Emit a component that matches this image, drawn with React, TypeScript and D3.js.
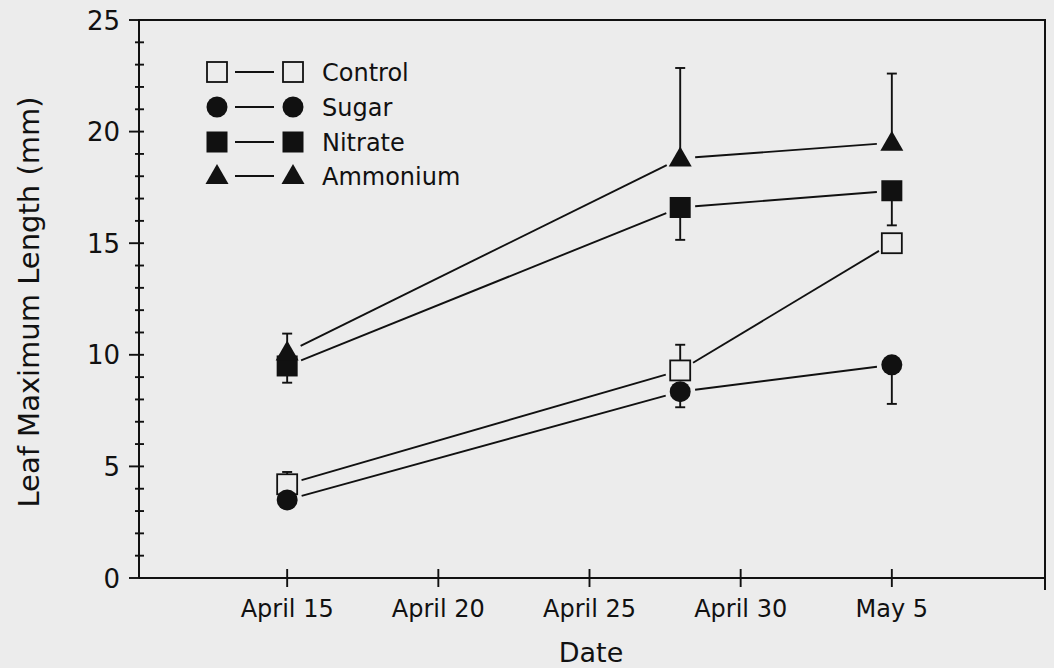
import React, { useEffect, useRef } from "react";
import * as d3 from "d3";

// sampling dates and tick labels
const sampleDates = ["1990-04-15", "1990-04-28", "1990-05-05"];
const tickDates = ["1990-04-15", "1990-04-20", "1990-04-25", "1990-04-30", "1990-05-05"];
const tickLabels = ["April 15", "April 20", "April 25", "April 30", "May 5"];

// leaf max length (mm) and one-sided error bars
const control = [4.2, 9.3, 15.0];
const controlErr = [0.55, 1.15, 0];
const sugar = [3.5, 8.35, 9.55];
const sugarErr = [0.3, 0.7, 1.75];
const nitrate = [9.5, 16.6, 17.35];
const nitrateErr = [0.75, 1.45, 1.55];
const ammonium = [10.1, 18.8, 19.5];
const ammoniumErr = [0.85, 4.05, 3.1];

const seriesNames = ["Control", "Sugar", "Nitrate", "Ammonium"];

const INK = "#111";
const BG = "#ececec";
const FONT = "'DejaVu Sans', sans-serif";
const SW = 1.9;

function App() {
  const svgRef = useRef(null);
  const svgWidth = 1054;
  const svgHeight = 668;

  useEffect(() => {
    const svg = d3.select(svgRef.current);
    svg.selectAll("*").remove();

    const parse = d3.timeParse("%Y-%m-%d");
    const left = 139;
    const right = 1045;
    const top = 20;
    const bottom = 578;

    const x = d3
      .scaleTime()
      .domain([parse("1990-04-10"), parse("1990-05-10")])
      .range([136, 1043]);
    const y = d3.scaleLinear().domain([0, 25]).range([bottom, top]);

    svg.append("rect").attr("width", svgWidth).attr("height", svgHeight).attr("fill", BG);

    // frame
    svg
      .append("path")
      .attr("d", `M${left},${bottom}V${top}H${right}V${bottom + 12}`)
      .attr("fill", "none")
      .attr("stroke", INK)
      .attr("stroke-width", 2);
    svg
      .append("line")
      .attr("x1", left)
      .attr("x2", right)
      .attr("y1", bottom)
      .attr("y2", bottom)
      .attr("stroke", INK)
      .attr("stroke-width", 2.2);

    // y ticks
    const yMinor = d3.range(0, 26, 1);
    svg
      .selectAll(".ytick")
      .data(yMinor)
      .enter()
      .append("line")
      .attr("x1", (d) => (d % 5 === 0 ? left - 10 : left - 4))
      .attr("x2", left + 5)
      .attr("y1", (d) => y(d))
      .attr("y2", (d) => y(d))
      .attr("stroke", INK)
      .attr("stroke-width", SW);

    svg
      .selectAll(".ylabel")
      .data(d3.range(0, 26, 5))
      .enter()
      .append("text")
      .attr("x", left - 19)
      .attr("y", (d) => y(d) + 9.5)
      .attr("text-anchor", "end")
      .style("font-family", FONT)
      .style("font-size", "26px")
      .attr("fill", INK)
      .text((d) => d);

    // x ticks
    const xt = tickDates.map((d) => parse(d));
    svg
      .selectAll(".xtick")
      .data(xt)
      .enter()
      .append("line")
      .attr("x1", (d) => x(d))
      .attr("x2", (d) => x(d))
      .attr("y1", bottom - 9)
      .attr("y2", bottom + 9)
      .attr("stroke", INK)
      .attr("stroke-width", SW);

    svg
      .selectAll(".xlabel")
      .data(xt)
      .enter()
      .append("text")
      .attr("x", (d) => x(d))
      .attr("y", 617)
      .attr("text-anchor", "middle")
      .style("font-family", FONT)
      .style("font-size", "24px")
      .attr("fill", INK)
      .text((d, i) => tickLabels[i]);

    svg
      .append("text")
      .attr("x", 591)
      .attr("y", 662)
      .attr("text-anchor", "middle")
      .style("font-family", FONT)
      .style("font-size", "27px")
      .attr("fill", INK)
      .text("Date");

    svg
      .append("text")
      .attr("transform", "translate(39,302) rotate(-90)")
      .attr("text-anchor", "middle")
      .style("font-family", FONT)
      .style("font-size", "29px")
      .attr("fill", INK)
      .text("Leaf Maximum Length (mm)");

    // markers
    const drawMarker = (g, kind, cx, cy) => {
      if (kind === "Control") {
        g.append("rect")
          .attr("x", cx - 10)
          .attr("y", cy - 10)
          .attr("width", 20)
          .attr("height", 20)
          .attr("fill", BG)
          .attr("stroke", INK)
          .attr("stroke-width", 1.8);
      } else if (kind === "Sugar") {
        g.append("circle").attr("cx", cx).attr("cy", cy).attr("r", 10.5).attr("fill", INK);
      } else if (kind === "Nitrate") {
        g.append("rect")
          .attr("x", cx - 10.5)
          .attr("y", cy - 10.5)
          .attr("width", 21)
          .attr("height", 21)
          .attr("fill", INK);
      } else {
        g.append("path")
          .attr("d", `M${cx},${cy - 12}L${cx + 11.5},${cy + 8}L${cx - 11.5},${cy + 8}Z`)
          .attr("fill", INK);
      }
    };

    const series = [
      { name: "Control", values: control, err: controlErr, dir: 1 },
      { name: "Sugar", values: sugar, err: sugarErr, dir: -1 },
      { name: "Nitrate", values: nitrate, err: nitrateErr, dir: -1 },
      { name: "Ammonium", values: ammonium, err: ammoniumErr, dir: 1 },
    ];
    const xs = sampleDates.map((d) => x(parse(d)));

    const gLines = svg.append("g");
    const gErr = svg.append("g");
    const gMarks = svg.append("g");

    series.forEach((s) => {
      const pts = s.values.map((v, i) => [xs[i], y(v)]);
      // connecting segments, stopping short of the markers
      for (let i = 0; i < pts.length - 1; i++) {
        const [x1, y1] = pts[i];
        const [x2, y2] = pts[i + 1];
        const len = Math.hypot(x2 - x1, y2 - y1);
        const gap = 15;
        const ux = (x2 - x1) / len;
        const uy = (y2 - y1) / len;
        gLines
          .append("line")
          .attr("x1", x1 + ux * gap)
          .attr("y1", y1 + uy * gap)
          .attr("x2", x2 - ux * gap)
          .attr("y2", y2 - uy * gap)
          .attr("stroke", INK)
          .attr("stroke-width", SW);
      }
      // one-sided error bars
      s.values.forEach((v, i) => {
        if (!s.err[i]) return;
        const e = v + s.dir * s.err[i];
        const cx = xs[i];
        gErr
          .append("line")
          .attr("x1", cx)
          .attr("x2", cx)
          .attr("y1", y(v))
          .attr("y2", y(e))
          .attr("stroke", INK)
          .attr("stroke-width", SW);
        gErr
          .append("line")
          .attr("x1", cx - 5)
          .attr("x2", cx + 5)
          .attr("y1", y(e))
          .attr("y2", y(e))
          .attr("stroke", INK)
          .attr("stroke-width", SW);
      });
      pts.forEach(([cx, cy]) => drawMarker(gMarks, s.name, cx, cy));
    });

    // legend
    const legend = svg.append("g");
    const rowY = [72, 107, 142, 176];
    seriesNames.forEach((name, i) => {
      const cy = rowY[i];
      drawMarker(legend, name, 217, cy);
      legend
        .append("line")
        .attr("x1", 235)
        .attr("x2", 274)
        .attr("y1", cy)
        .attr("y2", cy)
        .attr("stroke", INK)
        .attr("stroke-width", SW);
      drawMarker(legend, name, 293, cy);
      legend
        .append("text")
        .attr("x", 322)
        .attr("y", cy + 8.5)
        .style("font-family", FONT)
        .style("font-size", "24px")
        .attr("fill", INK)
        .text(name);
    });
  }, []);

  return (
    <div>
      <svg
        ref={svgRef}
        width={svgWidth}
        height={svgHeight}
        style={{ position: "absolute", left: 0, top: 0 }}
      ></svg>
    </div>
  );
}

export default App;
